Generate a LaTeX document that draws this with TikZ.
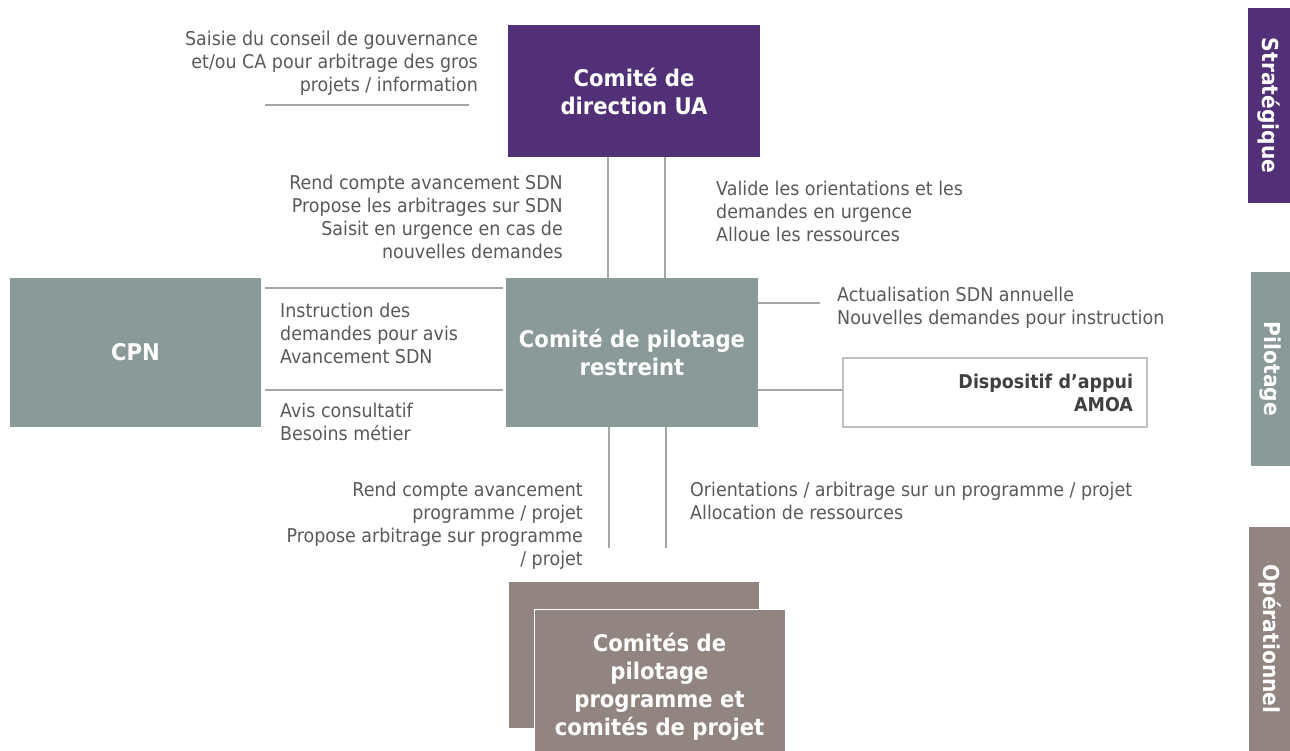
\documentclass[tikz,border=0pt]{standalone}
\usepackage{fontspec}
\setmainfont{DejaVu Sans}[FakeStretch=0.92]
\usetikzlibrary{positioning}
\definecolor{stratcol}{HTML}{523078}
\definecolor{pilotcol}{HTML}{8A9A98}
\definecolor{opercol}{HTML}{928481}
\definecolor{notecol}{HTML}{595959}
\definecolor{linecol}{HTML}{A6A6A6}
\definecolor{amoacol}{HTML}{404040}
\tikzset{
  block/.style={rectangle, inner sep=0pt, align=center, text=white, font=\fontsize{23}{28}\selectfont\bfseries},
  level/.style={rectangle, inner sep=0pt, rotate=-90, text=white, font=\fontsize{22}{26}\selectfont\bfseries},
  note/.style={inner sep=0pt, text=notecol, font=\fontsize{19}{23}\selectfont},
  amoabox/.style={rectangle, draw=linecol!70, line width=1.5pt, fill=white, inner xsep=14pt, text width=276pt, minimum height=69pt, align=right, text=amoacol, font=\fontsize{19}{23}\selectfont\bfseries},
  link/.style={draw=linecol, line width=1.5pt}
}
\begin{document}
\begin{tikzpicture}[x=1pt,y=-1pt]
        \useasboundingbox (0,0) rectangle (1290,751);
        \node[block, fill=stratcol, minimum width=252pt, minimum height=132pt] (dir) at (634,91) {Comité de\\direction UA};
        \node[block, fill=pilotcol, minimum width=252pt, minimum height=149pt] (pil) at (632,352.5) {Comité de pilotage\\restreint};
        \node[block, fill=pilotcol, minimum width=251pt, minimum height=149pt] (cpn) at (135.5,352.5) {CPN};
        \node[amoabox] (amoa) at (995,392.5) {Dispositif d’appui\\AMOA};
        \node[block, fill=opercol, minimum width=250pt, minimum height=146pt] (projback) at (634,655) {};
        \node[block, fill=opercol, draw=white, line width=1pt, minimum width=251pt, minimum height=156pt] (proj) at (659.5,687) {Comités de\\pilotage\\programme et\\comités de projet};

        \node[level, fill=stratcol, minimum width=195pt, minimum height=42pt] (lvstrat) at (1269,105.5) {Stratégique};
        \node[level, fill=pilotcol, minimum width=194pt, minimum height=39pt] (lvpil) at (1270.5,369) {Pilotage};
        \node[level, fill=opercol, minimum width=224pt, minimum height=41pt] (lvop) at (1269.5,639) {Opérationnel};

        \node[note, anchor=east, align=right] (saisie) at (478,63) {Saisie du conseil de gouvernance\\et/ou CA pour arbitrage des gros\\projets / information};
        \node[note, anchor=east, align=right] (rendsdn) at (563,216.5) {Rend compte avancement SDN\\Propose les arbitrages sur SDN\\Saisit en urgence en cas de\\nouvelles demandes};
        \node[note, anchor=west, align=left] (valide) at (716,211.5) {Valide les orientations et les\\demandes en urgence\\Alloue les ressources};
        \node[note, anchor=west, align=left] (instr) at (280,333) {Instruction des\\demandes pour avis\\Avancement SDN};
        \node[note, anchor=west, align=left] (avis) at (280,422) {Avis consultatif\\Besoins métier};
        \node[note, anchor=west, align=left] (actutxt) at (837,307.5) {Actualisation SDN annuelle\\Nouvelles demandes pour instruction};
        \node[note, anchor=east, align=right] (rendprog) at (583,526) {Rend compte avancement\\programme / projet\\Propose arbitrage sur programme\\/ projet};
        \node[note, anchor=west, align=left] (orient) at (690,501) {Orientations / arbitrage sur un programme / projet\\Allocation de ressources};

        \coordinate (saisiea) at (265,105);
        \coordinate (saisieb) at (469,105);
        \coordinate (actu) at (820,303);
        \coordinate (remonte) at (609,548);
        \coordinate (descend) at (666,548);
        \draw[link] (saisiea) -- (saisieb);
        \draw[link] (dir.south -| 608,0) -- (pil.north -| 608,0);
        \draw[link] (dir.south -| 665,0) -- (pil.north -| 665,0);
        \draw[link] ([xshift=4pt]cpn.east |- 0,288) -- ([xshift=-3pt]pil.west |- 0,288);
        \draw[link] ([xshift=4pt]cpn.east |- 0,390) -- ([xshift=-3pt]pil.west |- 0,390);
        \draw[link] (pil.east |- actu) -- (actu);
        \draw[link] (pil.east |- 0,390) -- (amoa.west |- 0,390);
        \draw[link] (pil.south -| remonte) -- (remonte);
        \draw[link] (pil.south -| descend) -- (descend);
    \end{tikzpicture}
\end{document}
